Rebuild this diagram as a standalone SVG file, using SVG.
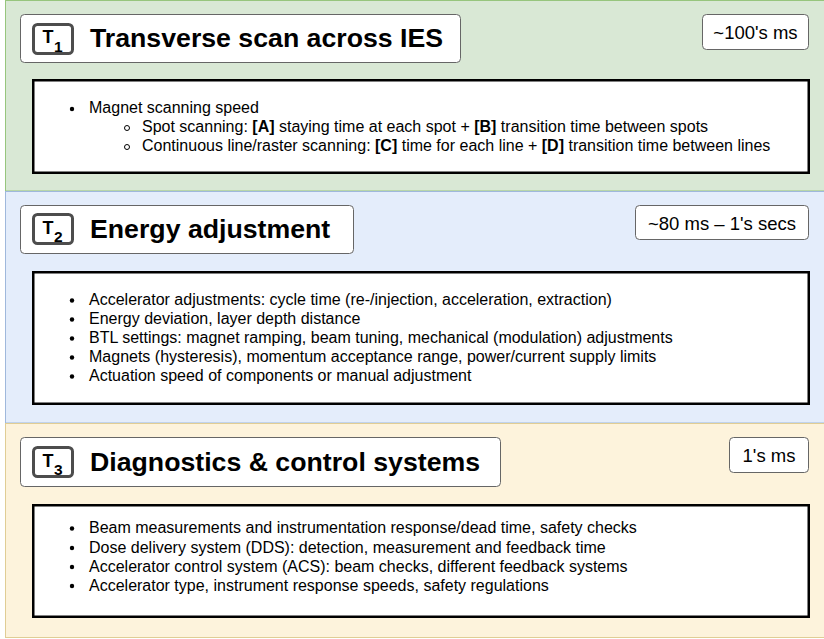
<svg xmlns="http://www.w3.org/2000/svg" width="824" height="639" viewBox="0 0 824 639">
<style>
.txt{font-family:"Liberation Sans",Arial,Helvetica,sans-serif;fill:#000}
.body{font-size:16px}
.title{font-size:26.7px;font-weight:bold}
.time{font-size:18.5px;text-anchor:middle}
.tbox{fill:#fff;stroke:#666;stroke-width:1}
.badge{fill:#fff;stroke:#4d4d4d;stroke-width:3}
.cbox{fill:#fff;stroke:#000;stroke-width:2.5}
.bt{font-size:18px;font-weight:bold}
.bs{font-size:15.5px;font-weight:bold}
.dot{fill:#000}
.ring{fill:none;stroke:#000;stroke-width:1}
</style>
<g id="panel-t1">
<rect x="5.5" y="0.5" width="830" height="190.5" fill="#d9e8d5" stroke="#97c57d" stroke-width="1"/>
<rect class="tbox" x="20.5" y="14.5" width="440" height="48" rx="4"/>
<rect class="badge" x="33.5" y="24.5" width="39" height="29" rx="4"/>
<text class="txt bt" x="42.5" y="43">T</text><text class="txt bs" x="54" y="51.5">1</text>
<text class="txt title" x="90" y="47">Transverse scan across IES</text>
<rect class="tbox" x="702.5" y="14.5" width="106" height="35" rx="4"/>
<text class="txt time" x="755.5" y="39">~100's ms</text>
<rect class="cbox" x="33.25" y="80.25" width="775.5" height="92.5"/>
<circle class="dot" cx="72" cy="109" r="2.2"/>
<text class="txt body" x="89" y="113">Magnet scanning speed</text>
<circle class="ring" cx="127" cy="128" r="2.5"/>
<text class="txt body" x="142" y="132">Spot scanning: <tspan font-weight="bold">[A]</tspan> staying time at each spot + <tspan font-weight="bold">[B]</tspan> transition time between spots</text>
<circle class="ring" cx="127" cy="147" r="2.5"/>
<text class="txt body" x="142" y="151">Continuous line/raster scanning: <tspan font-weight="bold">[C]</tspan> time for each line + <tspan font-weight="bold">[D]</tspan> transition time between lines</text>
</g>
<g id="panel-t2">
<rect x="5.5" y="191.5" width="830" height="231.5" fill="#e4edfb" stroke="#9fb8dc" stroke-width="1"/>
<rect class="tbox" x="20.5" y="205.5" width="333" height="48" rx="4"/>
<rect class="badge" x="33.5" y="214.5" width="39" height="29" rx="4"/>
<text class="txt bt" x="42.5" y="233.5">T</text><text class="txt bs" x="54" y="242">2</text>
<text class="txt title" x="90" y="238">Energy adjustment</text>
<rect class="tbox" x="635.5" y="205.5" width="173" height="34" rx="4"/>
<text class="txt time" x="722" y="229.5">~80 ms – 1's secs</text>
<rect class="cbox" x="33.25" y="272.25" width="775.5" height="131.5"/>
<circle class="dot" cx="72" cy="300.5" r="2.2"/>
<text class="txt body" x="89" y="305">Accelerator adjustments: cycle time (re-/injection, acceleration, extraction)</text>
<circle class="dot" cx="72" cy="319.5" r="2.2"/>
<text class="txt body" x="89" y="324">Energy deviation, layer depth distance</text>
<circle class="dot" cx="72" cy="338.5" r="2.2"/>
<text class="txt body" x="89" y="343">BTL settings: magnet ramping, beam tuning, mechanical (modulation) adjustments</text>
<circle class="dot" cx="72" cy="357.5" r="2.2"/>
<text class="txt body" x="89" y="362">Magnets (hysteresis), momentum acceptance range, power/current supply limits</text>
<circle class="dot" cx="72" cy="376.5" r="2.2"/>
<text class="txt body" x="89" y="381">Actuation speed of components or manual adjustment</text>
</g>
<g id="panel-t3">
<rect x="5.5" y="423.5" width="830" height="214" fill="#fdf3dc" stroke="#e0cd95" stroke-width="1"/>
<rect class="tbox" x="20.5" y="437.5" width="480" height="49" rx="4"/>
<rect class="badge" x="33.5" y="447.5" width="39" height="29" rx="4"/>
<text class="txt bt" x="42.5" y="466.5">T</text><text class="txt bs" x="54" y="475">3</text>
<text class="txt title" x="90" y="471">Diagnostics &amp; control systems</text>
<rect class="tbox" x="729.5" y="437.5" width="79" height="35" rx="4"/>
<text class="txt time" x="769" y="462">1's ms</text>
<rect class="cbox" x="33.25" y="505.25" width="775.5" height="111.5"/>
<circle class="dot" cx="72" cy="528.5" r="2.2"/>
<text class="txt body" x="89" y="533">Beam measurements and instrumentation response/dead time, safety checks</text>
<circle class="dot" cx="72" cy="548" r="2.2"/>
<text class="txt body" x="89" y="552.5">Dose delivery system (DDS): detection, measurement and feedback time</text>
<circle class="dot" cx="72" cy="567" r="2.2"/>
<text class="txt body" x="89" y="571.5">Accelerator control system (ACS): beam checks, different feedback systems</text>
<circle class="dot" cx="72" cy="586" r="2.2"/>
<text class="txt body" x="89" y="590.5">Accelerator type, instrument response speeds, safety regulations</text>
</g>
<g id="connectors"></g>
</svg>
